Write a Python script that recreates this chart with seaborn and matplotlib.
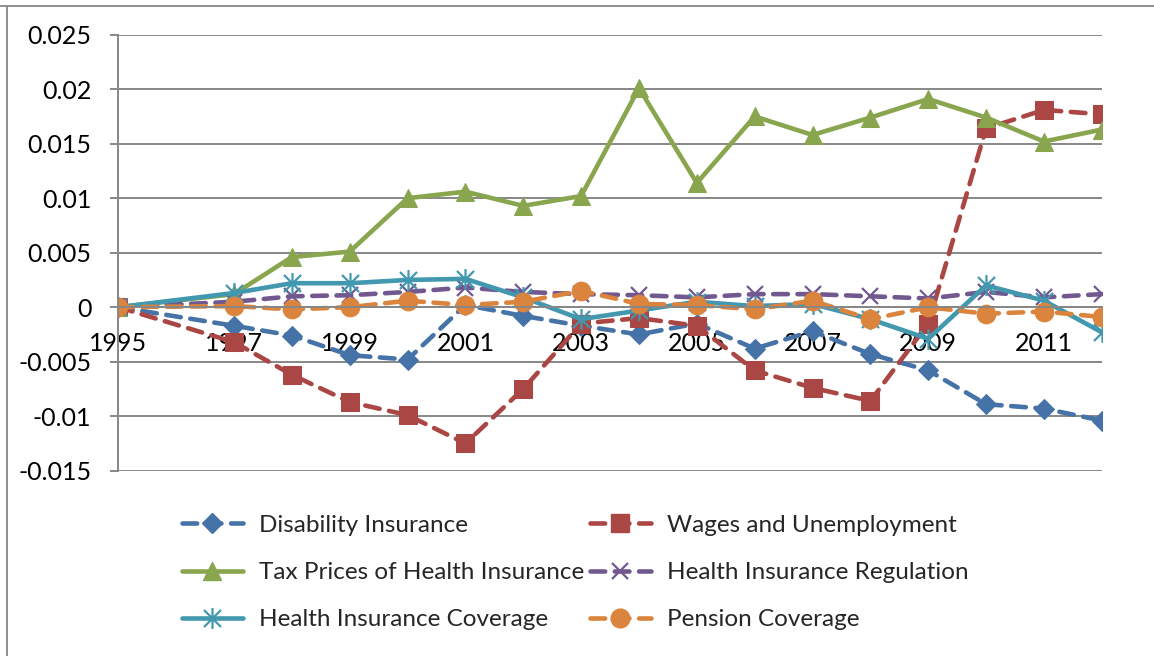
import matplotlib
matplotlib.use("Agg")
import matplotlib.pyplot as plt
from matplotlib.lines import Line2D
from matplotlib.path import Path
import seaborn as sns
import pandas as pd

# ---- data -------------------------------------------------------------
years = [1995, 1997, 1998, 1999, 2000, 2001, 2002, 2003, 2004,
         2005, 2006, 2007, 2008, 2009, 2010, 2011, 2012]

disability = [0.0, -0.0017, -0.0026, -0.0044, -0.0048, 0.0002, -0.0008, -0.0017, -0.0025,
              -0.0015, -0.0038, -0.0022, -0.0043, -0.0058, -0.0089, -0.0093, -0.0104]
wages = [0.0, -0.0032, -0.0062, -0.0087, -0.0099, -0.0125, -0.0075, -0.0015, -0.0010,
         -0.0017, -0.0058, -0.0074, -0.0086, -0.0015, 0.0164, 0.0181, 0.0177]
tax_prices = [0.0, 0.0012, 0.0046, 0.0051, 0.0100, 0.0106, 0.0093, 0.0102, 0.0201,
              0.0114, 0.0175, 0.0158, 0.0174, 0.0191, 0.0174, 0.0152, 0.0163]
regulation = [0.0, 0.0005, 0.0010, 0.0011, 0.0014, 0.0018, 0.0014, 0.0012, 0.0011,
              0.0009, 0.0012, 0.0012, 0.0010, 0.0008, 0.0014, 0.0009, 0.0012]
coverage = [0.0, 0.0013, 0.0022, 0.0022, 0.0025, 0.0026, 0.0009, -0.0011, -0.0003,
            0.0005, 0.0001, 0.0003, -0.0011, -0.0029, 0.0020, 0.0006, -0.0023]
pension = [0.0, 0.0001, -0.0002, 0.0000, 0.0006, 0.0002, 0.0005, 0.0015, 0.0003,
           0.0002, -0.0002, 0.0006, -0.0011, 0.0000, -0.0006, -0.0004, -0.0009]

series_names = ["Disability Insurance", "Wages and Unemployment",
                "Tax Prices of Health Insurance", "Health Insurance Regulation",
                "Health Insurance Coverage", "Pension Coverage"]
series_values = [disability, wages, tax_prices, regulation, coverage, pension]

xtick_values = [1995, 1997, 1999, 2001, 2003, 2005, 2007, 2009, 2011]
ytick_values = [0.025, 0.02, 0.015, 0.01, 0.005, 0.0, -0.005, -0.01, -0.015]
ytick_labels = ["0.025", "0.02", "0.015", "0.01", "0.005", "0",
                "-0.005", "-0.01", "-0.015"]

# ---- styling ----------------------------------------------------------
sns.set_theme(style="white")
plt.rcParams["font.family"] = ["Lato", "DejaVu Sans"]
plt.rcParams["axes.unicode_minus"] = False

GRID = "#878787"
LW = 3.3
DASH = (0, (3.2, 2.1))
TICK_FS = 18
LEG_FS = 17.5

# asterisk marker: an X crossed by a vertical stroke
star_path = Path(
    [(-0.45, -0.45), (0.45, 0.45), (-0.45, 0.45), (0.45, -0.45), (0, -0.55), (0, 0.55)],
    [Path.MOVETO, Path.LINETO, Path.MOVETO, Path.LINETO, Path.MOVETO, Path.LINETO],
)

styles = [
    dict(color="#4572A7", marker="D", markersize=10, linestyle=DASH),
    dict(color="#AA4643", marker="s", markersize=13.5, linestyle=DASH),
    dict(color="#89A54E", marker="^", markersize=13.5, linestyle="-"),
    dict(color="#71588F", marker="x", markersize=12, linestyle=DASH, markeredgewidth=1.6),
    dict(color="#4198AF", marker=star_path, markersize=15, linestyle="-", markeredgewidth=1.6),
    dict(color="#DB843D", marker="o", markersize=13.5, linestyle=DASH),
]

W, H = 1154, 656
fig = plt.figure(figsize=(W / 100, H / 100), dpi=100)
fig.patch.set_facecolor("white")

left_px, right_px, top_px, bottom_px = 118.3, 1101.8, 34.7, 470.7
ax = fig.add_axes([left_px / W, 1 - bottom_px / H,
                   (right_px - left_px) / W, (bottom_px - top_px) / H])
ax.set_facecolor("white")

for name, vals, st in zip(series_names, series_values, styles):
    df = pd.DataFrame({"year": years, "value": vals})
    st = dict(st)
    color = st.pop("color")
    sns.lineplot(data=df, x="year", y="value", ax=ax, color=color,
                 linewidth=LW, dash_capstyle="round", solid_capstyle="round",
                 markeredgecolor=color, markerfacecolor=color,
                 label=name, legend=False, **st)

# axes limits & ticks
ax.set_xlim(1995, 2012)
ax.set_ylim(-0.015, 0.025)
ax.set_yticks(ytick_values)
ax.set_yticklabels(ytick_labels)
ax.set_xticks(xtick_values)
ax.set_xticklabels([str(v) for v in xtick_values])
ax.set_xlabel("")
ax.set_ylabel("")

ax.yaxis.grid(True, color=GRID, linewidth=1.4)
ax.xaxis.grid(False)
ax.set_axisbelow(True)

for s in ["top", "right"]:
    ax.spines[s].set_visible(False)
ax.spines["left"].set_color(GRID)
ax.spines["left"].set_linewidth(1.4)
ax.spines["bottom"].set_position(("data", 0))
ax.spines["bottom"].set_color(GRID)
ax.spines["bottom"].set_linewidth(1.4)

ax.tick_params(axis="y", left=True, length=5.8, width=1.4, color=GRID,
               direction="out", pad=13.5, labelsize=TICK_FS, labelcolor="black")
ax.tick_params(axis="x", bottom=False, length=0, pad=17.5,
               labelsize=TICK_FS, labelcolor="black")

# legend: two columns placed side by side below the plot
handles = []
for name, st in zip(series_names, styles):
    st = dict(st)
    color = st.pop("color")
    handles.append(Line2D([0], [0], color=color, linewidth=LW,
                          dash_capstyle="round", solid_capstyle="round",
                          markeredgecolor=color, markerfacecolor=color,
                          label=name, **st))

leg_kw = dict(loc="center left", frameon=False, fontsize=LEG_FS,
              handlelength=2.5, handletextpad=0.66, labelspacing=1.08,
              borderpad=0, borderaxespad=0, numpoints=1)
fig.legend(handles=[handles[0], handles[2], handles[4]],
           bbox_to_anchor=(182 / W, 1 - 572.5 / H), **leg_kw)
fig.legend(handles=[handles[1], handles[3], handles[5]],
           bbox_to_anchor=(590 / W, 1 - 572.5 / H), **leg_kw)

# chart-area border along the top and left edges
fig.add_artist(Line2D([0, 1], [1 - 5.5 / H, 1 - 5.5 / H], transform=fig.transFigure,
                      color=GRID, linewidth=1.3))
fig.add_artist(Line2D([7 / W, 7 / W], [0, 1 - 5.5 / H], transform=fig.transFigure,
                      color=GRID, linewidth=1.3))

fig.savefig("out.png", dpi=100, facecolor="white")
